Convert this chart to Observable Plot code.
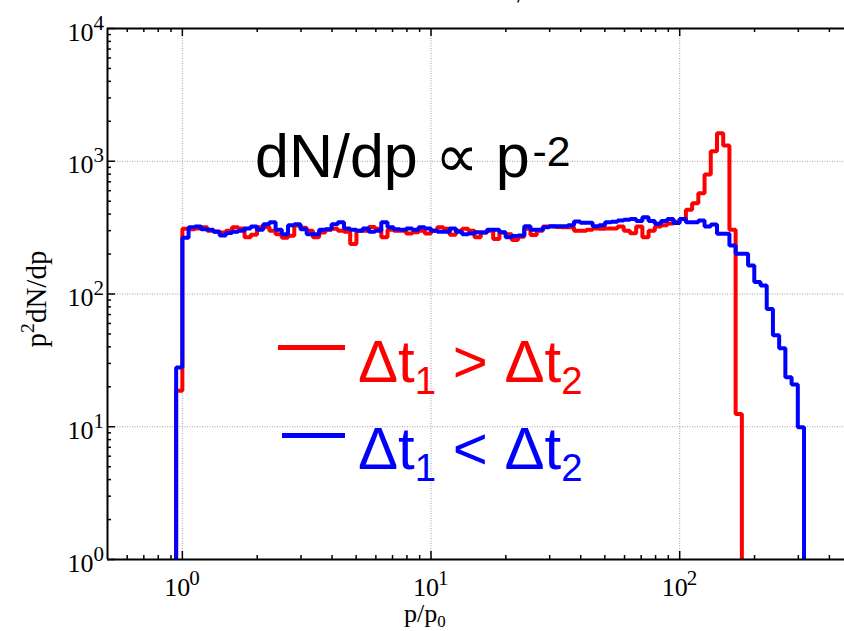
<!DOCTYPE html>
<html><head><meta charset="utf-8">
<script src="https://cdn.jsdelivr.net/npm/d3@7"></script>
<script src="https://cdn.jsdelivr.net/npm/@observablehq/plot@0.6"></script>
<style>
html,body{margin:0;padding:0;background:#fff;overflow:hidden;width:844px;height:631px;}
#wrap{position:relative;width:844px;height:631px;overflow:hidden;background:#fff;}
#wrap svg{position:absolute;left:0;top:0;overflow:visible;max-width:none !important;}
.ann{position:absolute;font-family:"Liberation Sans",Arial,sans-serif;white-space:nowrap;line-height:1;}
.serif{position:absolute;font-family:"Liberation Serif","Times New Roman",serif;white-space:nowrap;line-height:1;color:#000;}
.sup{position:relative;}
.sub{position:relative;}
</style></head><body>
<div id="wrap"></div>
<script>
// ---- data ----
// histogram bins are logarithmic, 40 per decade; first bin index is -1 (edge at 10^(-1/40))
const binsPerDecade = 40;
const firstBin = -1;
// red: Δt1 > Δt2  (bins -1 .. 89)
const redValues = [18.7,
  310, 308, 312, 318, 300, 296, 290, 300, 318, 312,
  268, 280, 318, 320, 300, 282, 265, 275, 328, 315,
  300, 268, 290, 305, 310, 300, 295, 238, 300, 300,
  320, 310, 268, 305, 300, 300, 285, 292, 300, 285,
  300, 318, 310, 280, 300, 310, 300, 268, 290, 300,
  260, 290, 282, 255, 270, 310, 278, 300, 322, 322,
  320, 318, 318, 300, 300, 305, 312, 310, 312, 312,
  322, 300, 287, 322, 268, 300, 322, 330, 340, 350,
  368, 431, 483, 574, 795, 1190, 1625, 1315, 305, 12.5];
// blue: Δt1 < Δt2  (bins -1 .. 99)
const blueValues = [27.9,
  265, 318, 322, 308, 305, 294, 276, 288, 294, 299,
  312, 322, 305, 335, 347, 305, 282, 330, 335, 308,
  282, 282, 305, 308, 335, 347, 312, 305, 299, 312,
  294, 299, 347, 318, 308, 305, 312, 305, 318, 312,
  300, 294, 294, 312, 294, 282, 285, 292, 290, 305,
  305, 292, 268, 273, 276, 324, 305, 305, 318, 324,
  324, 324, 330, 352, 344, 344, 324, 330, 347, 350,
  358, 362, 368, 354, 379, 354, 338, 354, 368, 342,
  368, 347, 347, 358, 322, 334, 284, 284, 232, 201,
  201, 164, 123, 116, 77, 49, 39, 23.6, 20.8, 9.9];
const xTickExps = [0, 1, 2];
const yTickExps = [0, 1, 2, 3, 4];
const xDomain = [0.5, 500];
const yDomain = [1, 10000];

// ---- layout ----
const W = 853, H = 631;
const mL = 107, mR = 0, mT = 28, mB = 72;
const innerW = W - mL - mR, innerH = H - mT - mB;
const serif = "Liberation Serif, Times New Roman, serif";

function edge(k) { return Math.pow(10, k / binsPerDecade); }
function stepPoints(vals) {
  const pts = [{x: edge(firstBin), y: yDomain[0]}];
  vals.forEach((v, i) => {
    const k = firstBin + i;
    pts.push({x: edge(k), y: v});
    pts.push({x: edge(k + 1), y: v});
  });
  pts.push({x: edge(firstBin + vals.length), y: yDomain[0]});
  return pts;
}
const redPts = stepPoints(redValues);
const bluePts = stepPoints(blueValues);

const xMajor = xTickExps.map(e => 10 ** e);
const yMajor = yTickExps.map(e => 10 ** e);
const xMinor = [];
[-1, 0, 1, 2].forEach(e => { for (let m = 2; m <= 9; m++) { const v = m * 10 ** e; if (v > xDomain[0] && v < xDomain[1]) xMinor.push(v); } });
const yMinor = [];
[0, 1, 2, 3].forEach(e => { for (let m = 2; m <= 9; m++) yMinor.push(m * 10 ** e); });

const gridStyle = {stroke: "#a0a0a0", strokeWidth: 1, strokeDasharray: "1,1.5"};

const chart = Plot.plot({
  width: W, height: H,
  marginLeft: mL, marginRight: mR, marginTop: mT, marginBottom: mB,
  style: {background: "transparent", overflow: "visible", maxWidth: "none"},
  x: {type: "log", domain: xDomain, axis: null},
  y: {type: "log", domain: yDomain, axis: null},
  marks: [
    Plot.ruleX(xMajor, {x: d => d, ...gridStyle}),
    Plot.ruleY(yMajor.slice(1, -1), {y: d => d, ...gridStyle}),
    Plot.line(redPts, {x: "x", y: "y", stroke: "#ff0000", strokeWidth: 4, strokeLinejoin: "miter", strokeLinecap: "butt"}),
    Plot.line(bluePts, {x: "x", y: "y", stroke: "#0000ff", strokeWidth: 4, strokeLinejoin: "miter", strokeLinecap: "butt"}),
    // frame (left, bottom, top)
    Plot.ruleX([xDomain[0]], {x: d => d, stroke: "black", strokeWidth: 2}),
    Plot.ruleY([yDomain[0]], {y: d => d, stroke: "black", strokeWidth: 2}),
    Plot.ruleY([yDomain[1]], {y: d => d, stroke: "black", strokeWidth: 2}),
    // inward ticks: bottom
    Plot.tickX(xMajor, {x: d => d, stroke: "black", strokeWidth: 1.5, insetTop: innerH - 8}),
    Plot.tickX(xMinor, {x: d => d, stroke: "black", strokeWidth: 1.5, insetTop: innerH - 4}),
    // top
    Plot.tickX(xMajor, {x: d => d, stroke: "black", strokeWidth: 1.5, insetBottom: innerH - 8}),
    Plot.tickX(xMinor, {x: d => d, stroke: "black", strokeWidth: 1.5, insetBottom: innerH - 4}),
    // left
    Plot.tickY(yMajor, {y: d => d, stroke: "black", strokeWidth: 1.5, insetRight: innerW - 8}),
    Plot.tickY(yMinor, {y: d => d, stroke: "black", strokeWidth: 1.5, insetRight: innerW - 4}),
    // tick labels 10^n
    Plot.text(xTickExps, {x: d => 10 ** d, text: () => "10", frameAnchor: "bottom", textAnchor: "end", lineAnchor: "bottom", dx: 8, dy: 36, fontSize: 26, fontFamily: serif, fill: "black"}),
    Plot.text(xTickExps, {x: d => 10 ** d, text: d => String(d), frameAnchor: "bottom", textAnchor: "start", lineAnchor: "bottom", dx: 7, dy: 25, fontSize: 21, fontFamily: serif, fill: "black"}),
    Plot.text(yTickExps, {y: d => 10 ** d, text: () => "10", frameAnchor: "left", textAnchor: "end", lineAnchor: "bottom", dx: -14, dy: 12, fontSize: 26, fontFamily: serif, fill: "black"}),
    Plot.text(yTickExps, {y: d => 10 ** d, text: d => String(d), frameAnchor: "left", textAnchor: "start", lineAnchor: "bottom", dx: -14, dy: 1, fontSize: 21, fontFamily: serif, fill: "black"})
  ]
});
const wrap = document.getElementById("wrap");
wrap.appendChild(chart);

// ---- text annotations, legend, axis titles ----
const html = `
<div class="ann" style="left:500px;top:-23px;font-size:26px;color:#000">e,H</div>
<div class="ann" style="left:255px;top:126px;font-size:61px;color:#000">dN/dp ∝ p<span class="sup" style="font-size:0.7em;top:-0.25em;margin-left:3px">-2</span></div>
<div style="position:absolute;left:278px;top:345px;width:67px;height:5px;background:#ff0000"></div>
<div class="ann" style="left:358px;top:332px;font-size:60px;color:#ff0000">Δt<span class="sub" style="font-size:0.64em;top:0.3em">1</span> &gt; Δt<span class="sub" style="font-size:0.64em;top:0.3em">2</span></div>
<div style="position:absolute;left:282px;top:433px;width:63px;height:5px;background:#0000ff"></div>
<div class="ann" style="left:358px;top:419px;font-size:60px;color:#0000ff">Δt<span class="sub" style="font-size:0.64em;top:0.3em">1</span> &lt; Δt<span class="sub" style="font-size:0.64em;top:0.3em">2</span></div>
<div class="serif" style="left:404px;top:601px;font-size:26px">p/p<span class="sub" style="font-size:0.65em;top:0.3em">0</span></div>
<div class="serif" style="left:36px;top:299px;font-size:29px;transform:translate(-50%,-50%) rotate(-90deg);transform-origin:center">p<span class="sup" style="font-size:0.68em;top:-0.6em">2</span>dN/dp</div>
`;
wrap.insertAdjacentHTML("beforeend", html);
</script>
</body></html>
